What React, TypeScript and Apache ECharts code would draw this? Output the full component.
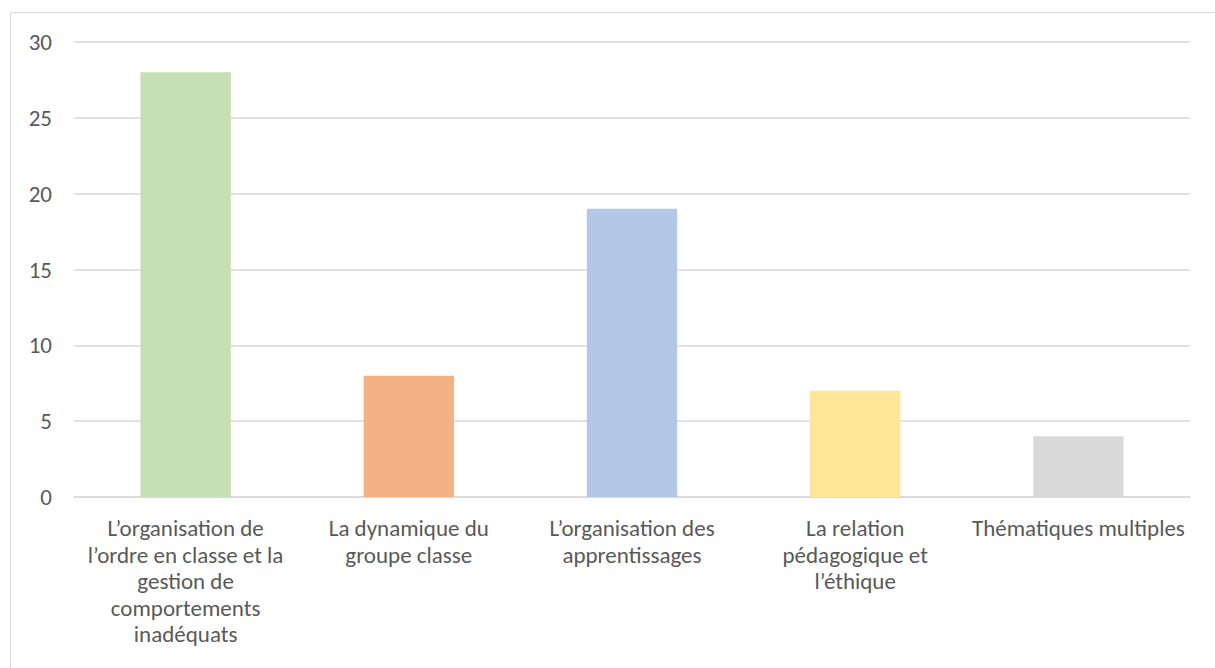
import React, { useEffect, useRef } from "react";
import * as echarts from "echarts";

const categories: string[] = [
  "L’organisation de\nl’ordre en classe et la\ngestion de\ncomportements\ninadéquats",
  "La dynamique du\ngroupe classe",
  "L’organisation des\napprentissages",
  "La relation\npédagogique et\nl’éthique",
  "Thématiques multiples",
];
const values: number[] = [28, 8, 19, 7, 4];
const barColors: string[] = ["#C5E0B4", "#F4B183", "#B4C7E7", "#FFE699", "#D9D9D9"];
const yTicks = { min: 0, max: 30, interval: 5 };

const FONT = "Calibri, Carlito, Lato, sans-serif";

export default function App() {
  const ref = useRef<HTMLDivElement>(null);
  useEffect(() => {
    if (!ref.current) return;
    const chart = echarts.init(ref.current, null, { renderer: "svg" });
    chart.setOption({
      animation: false,
      backgroundColor: "#FFFFFF",
      graphic: [
        {
          type: "rect",
          shape: { x: 10.5, y: 12.5, width: 1300, height: 800 },
          style: { fill: "none", stroke: "#D9D9D9", lineWidth: 1 },
          silent: true,
          z: -1,
        },
      ],
      grid: { left: 74, right: 25, top: 42, bottom: 171, containLabel: false },
      xAxis: {
        type: "category",
        data: categories,
        axisLine: { show: true, lineStyle: { color: "#D9D9D9", width: 1.5 } },
        axisTick: { show: false },
        axisLabel: {
          interval: 0,
          color: "#595959",
          fontSize: 23,
          fontFamily: FONT,
          lineHeight: 26.5,
          margin: 18,
          align: "center",
        },
      },
      yAxis: {
        type: "value",
        min: yTicks.min,
        max: yTicks.max,
        interval: yTicks.interval,
        axisLine: { show: false },
        axisTick: { show: false },
        splitLine: { lineStyle: { color: "#D9D9D9", width: 1.5 } },
        axisLabel: {
          color: "#595959",
          fontSize: 23,
          fontFamily: FONT,
          margin: 22,
        },
      },
      series: [
        {
          type: "bar",
          data: values.map((v, i) => ({ value: v, itemStyle: { color: barColors[i] } })),
          barWidth: "40.5%",
        },
      ],
    });
    return () => chart.dispose();
  }, []);
  return (
    <div
      ref={ref}
      style={{ position: "absolute", left: 0, top: 0, width: 1215, height: 668 }}
    />
  );
}
